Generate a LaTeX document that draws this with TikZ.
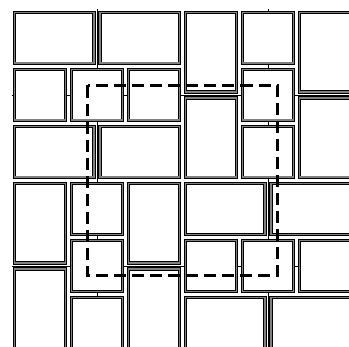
\documentclass[tikz,border=0pt]{standalone}
\usepackage{tikz}

\tikzset{
    tile/.style={draw=black, line width=0.45pt, double=gray, double distance=0.8pt, fill=white},
    guide/.style={line width=0.3pt},
    window/.style={line width=1.4pt, dash pattern=on 6pt off 3pt}
}
\def\ins{0.056}

\begin{document}
\begin{tikzpicture}[y=-1cm]

% Frame of the picture
\useasboundingbox (-0.2018,-0.1667) rectangle (5.921,5.921);
\clip (-0.2018,-0.1667) rectangle (5.921,5.921);

% Thin guide lines under the tiles
\foreach \t in {1.5,4.5} {
    \draw[guide] (0,\t) -- (6.3,\t);
    \draw[guide] (\t,0) -- (\t,6.3);
}

% Blocks with horizontal tiles
\foreach \bx/\by in {0/0,3/3} {
\begin{scope}[shift={(\bx,\by)}]
    \foreach \a/\b/\c/\d in {0/0/1.5/1, 1.5/0/3/1, 0/1/1/2, 1/1/2/2, 2/1/3/2, 0/2/1.5/3, 1.5/2/3/3}
        \draw[tile] (\a+\ins,\b+\ins) rectangle (\c-\ins,\d-\ins);
\end{scope}
}

% Blocks with vertical tiles
\foreach \bx/\by in {3/0,0/3} {
\begin{scope}[shift={(\bx,\by)}]
    \foreach \a/\b/\c/\d in {0/0/1/1.5, 0/1.5/1/3, 1/0/2/1, 1/1/2/2, 1/2/2/3, 2/0/3/1.5, 2/1.5/3/3}
        \draw[tile] (\a+\ins,\b+\ins) rectangle (\c-\ins,\d-\ins);
\end{scope}
}

% Dashed window
\draw[window] (4/3,4/3) rectangle (14/3,14/3);

\end{tikzpicture}
\end{document}
